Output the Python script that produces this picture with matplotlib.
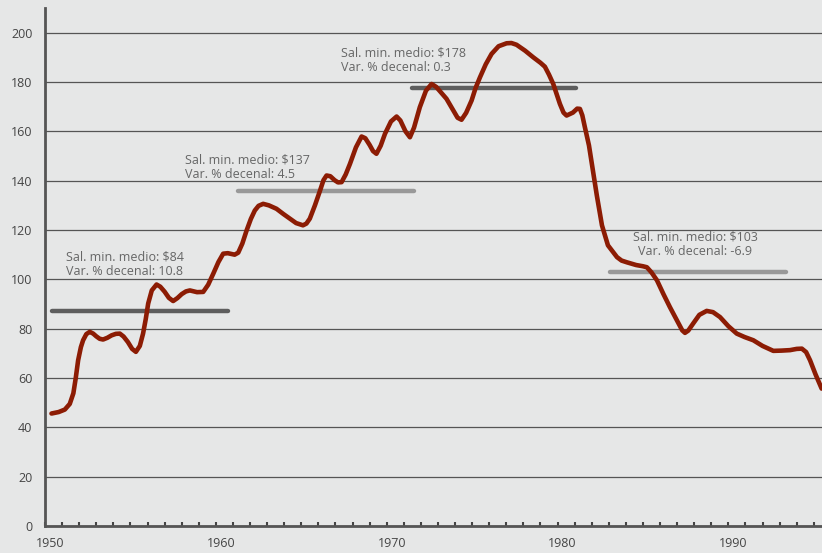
import numpy as np
import matplotlib
matplotlib.use("Agg")
import matplotlib.pyplot as plt
from matplotlib.transforms import ScaledTranslation

# salario minimo real (lectura del grafico)
years = [1950.38, 1950.8, 1951.16, 1951.45, 1951.66, 1951.8, 1951.94, 1952.1, 1952.23,
         1952.42, 1952.62, 1952.82, 1953.0, 1953.2, 1953.4, 1953.65, 1953.9, 1954.15,
         1954.38, 1954.6, 1954.85, 1955.1, 1955.32, 1955.55, 1955.74, 1955.9, 1956.04,
         1956.25, 1956.53, 1956.75, 1957.0, 1957.25, 1957.5, 1957.75, 1958.0, 1958.25,
         1958.48, 1958.9, 1959.26, 1959.55, 1959.85, 1960.15, 1960.43, 1960.7, 1961.1,
         1961.31, 1961.55, 1961.8, 1962.05, 1962.28, 1962.5, 1962.77, 1963.1, 1963.55,
         1963.95, 1964.33, 1964.7, 1965.1, 1965.3, 1965.5, 1965.8, 1966.1, 1966.3,
         1966.48, 1966.7, 1966.95, 1967.15, 1967.36, 1967.6, 1967.85, 1968.2, 1968.53,
         1968.75, 1969.0, 1969.2, 1969.4, 1969.65, 1969.9, 1970.25, 1970.58, 1970.8,
         1971.1, 1971.36, 1971.6, 1971.94, 1972.3, 1972.63, 1972.9, 1973.2, 1973.5,
         1973.9, 1974.15, 1974.38, 1974.65, 1974.97, 1975.2, 1975.46, 1975.8, 1976.14,
         1976.55, 1977.02, 1977.3, 1977.6, 1978.1, 1978.58, 1979.0, 1979.26, 1979.5,
         1979.75, 1979.95, 1980.14, 1980.35, 1980.53, 1980.9, 1981.15, 1981.31, 1981.45,
         1981.6, 1981.84, 1982.07, 1982.3, 1982.6, 1982.95, 1983.48, 1983.75, 1984.06,
         1984.6, 1985.0, 1985.23, 1985.5, 1985.82, 1986.2, 1986.58, 1987.0, 1987.3,
         1987.46, 1987.65, 1987.94, 1988.3, 1988.73, 1989.1, 1989.51, 1990.0, 1990.49,
         1990.95, 1991.46, 1992.0, 1992.63, 1993.1, 1993.61, 1994.0, 1994.3, 1994.55,
         1994.78, 1995.1, 1995.46]
salario = [45.6, 46.2, 47.2, 49.5, 53.8, 60.0, 67.2, 72.5, 75.3,
           77.8, 78.7, 78.0, 76.9, 75.9, 75.6, 76.3, 77.3, 77.9,
           78.0, 76.8, 74.6, 71.8, 70.6, 73.0, 78.0, 84.0, 90.2,
           95.5, 97.9, 97.0, 95.0, 92.5, 91.2, 92.4, 94.0, 95.1,
           95.5, 94.8, 94.9, 97.8, 102.3, 107.0, 110.4, 110.6, 110.0,
           110.8, 114.5, 119.8, 124.5, 127.9, 129.8, 130.6, 130.0, 128.6,
           126.5, 124.6, 122.8, 121.9, 122.6, 124.6, 130.0, 136.0, 140.2,
           142.1, 141.8, 140.2, 139.3, 139.4, 142.5, 146.8, 153.5, 157.9,
           157.2, 154.5, 152.0, 150.9, 154.2, 159.0, 164.0, 166.0, 164.4,
           160.0, 157.6, 161.5, 169.8, 176.5, 179.2, 178.0, 175.6, 173.2,
           168.5, 165.5, 164.7, 167.5, 172.5, 177.5, 181.9, 187.2, 191.4,
           194.5, 195.7, 195.8, 195.1, 192.7, 190.0, 187.8, 186.2, 183.0,
           179.2, 175.0, 171.1, 167.6, 166.4, 167.6, 169.2, 169.1, 166.5,
           161.7, 154.3, 144.1, 134.0, 121.9, 113.8, 109.0, 107.6, 106.9,
           105.8, 105.3, 104.9, 102.8, 99.6, 94.0, 88.7, 83.2, 79.3,
           78.3, 79.2, 82.1, 85.6, 87.2, 86.7, 84.7, 81.0, 78.0,
           76.6, 75.3, 73.0, 71.0, 71.1, 71.3, 71.8, 71.9, 70.5,
           67.2, 61.5, 55.7]

# promedios por decada
dec_start = [1950.4, 1961.3, 1971.5, 1983.1]
dec_end = [1960.7, 1971.6, 1981.1, 1993.4]
dec_level = [87.2, 136.0, 177.5, 103.0]
dec_color = ["#5e5e5e", "#999999", "#5e5e5e", "#999999"]
dec_text = ["Sal. min. medio: $84\nVar. % decenal: 10.8",
            "Sal. min. medio: $137\nVar. % decenal: 4.5",
            "Sal. min. medio: $178\nVar. % decenal: 0.3",
            "Sal. min. medio: $103\nVar. % decenal: -6.9"]
text_x = [1951.2, 1958.2, 1967.3, 1988.05]
text_y = [106.1, 145.5, 188.9, 114.2]
text_ha = ["left", "left", "left", "center"]

plt.rcParams['font.family'] = ['Open Sans', 'DejaVu Sans']

bg = "#e6e7e7"
fig = plt.figure(figsize=(8.22, 5.53), dpi=100, facecolor=bg)
ax = fig.add_axes([45 / 822, 27 / 553, 777 / 822, 518 / 553], facecolor=bg)

ax.set_xlim(1950, 1995.48)
ax.set_ylim(0, 210)

ax.set_yticks(np.arange(0, 201, 20))
ax.yaxis.grid(True, color="#555555", linewidth=0.9)
ax.set_axisbelow(True)

for i in range(4):
    ax.plot([dec_start[i], dec_end[i]], [dec_level[i], dec_level[i]],
            color=dec_color[i], linewidth=3.2, solid_capstyle="round", zorder=3)
    ax.text(text_x[i], text_y[i], dec_text[i], ha=text_ha[i], va="center",
            fontsize=9, color="#666666", linespacing=1.2, zorder=4)

ax.plot(years, salario, color="#8c1c04", linewidth=3.3,
        solid_joinstyle="round", solid_capstyle="round", zorder=5)

ax.set_xticks([1950, 1960, 1970, 1980, 1990])
ax.set_xticks(np.arange(1950, 1996, 1), minor=True)
ax.tick_params(axis="x", which="both", direction="in", length=3, width=1.5,
               color="#444444", pad=8, labelsize=9, labelcolor="#444444")
ax.tick_params(axis="y", length=0, pad=9, labelsize=9, labelcolor="#444444")
for lab in ax.get_xticklabels():
    lab.set_transform(lab.get_transform() + ScaledTranslation(5 / 100, 0, fig.dpi_scale_trans))

for s in ["top", "right"]:
    ax.spines[s].set_visible(False)
for s in ["left", "bottom"]:
    ax.spines[s].set_color("#555555")
    ax.spines[s].set_linewidth(2)
    ax.spines[s].set_zorder(6)

fig.savefig("out.png", dpi=100, facecolor=bg)
